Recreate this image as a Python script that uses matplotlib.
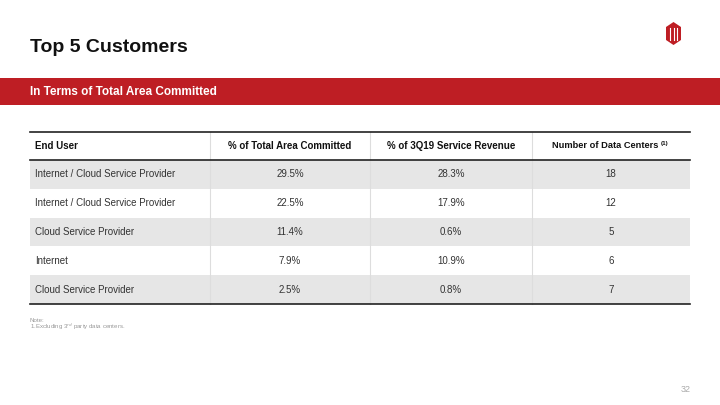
import matplotlib.pyplot as plt
from matplotlib.patches import Rectangle, Polygon

plt.rcParams['font.family'] = ['Liberation Sans', 'DejaVu Sans']

# ---------------------------------------------------------------
# Table data
# ---------------------------------------------------------------
headers = ['End User', '% of Total Area Committed', '% of 3Q19 Service Revenue',
           'Number of Data Centers']
end_users = ['Internet / Cloud Service Provider', 'Internet / Cloud Service Provider',
             'Cloud Service Provider', 'Internet', 'Cloud Service Provider']
area_pct = ['29.5%', '22.5%', '11.4%', '7.9%', '2.5%']
revenue_pct = ['28.3%', '17.9%', '0.6%', '10.9%', '0.8%']
data_centers = ['18', '12', '5', '6', '7']

red = '#BE1E24'
col_edges = [30, 210, 370, 532, 690]
header_top, header_bot = 132, 160
row_h = 28.8

fig = plt.figure(figsize=(7.2, 4.05), dpi=100)
ax = fig.add_axes([0, 0, 1, 1])
ax.set_xlim(0, 720)
ax.set_ylim(405, 0)
ax.axis('off')

# title and red band
ax.text(30, 48, 'Top 5 Customers', fontsize=14, fontweight='bold', va='center', color='#111111')
ax.add_patch(Rectangle((0, 78), 720, 27, color=red, lw=0))
ax.text(30, 92, 'In Terms of Total Area Committed', fontsize=8.5, fontweight='bold',
        va='center', color='white')

# logo (rough)
logo = Polygon([(666, 27), (673.5, 22), (681, 27), (681, 40), (673.5, 45), (666, 40)],
               closed=True, color=red, lw=0)
ax.add_patch(logo)
for x in [670, 673.5, 677]:
    ax.plot([x, x], [28, 40], color='white', lw=0.8)

# header
ax.plot([col_edges[0], col_edges[-1]], [header_top, header_top], color='#222222', lw=1.2)
ax.plot([col_edges[0], col_edges[-1]], [header_bot, header_bot], color='#222222', lw=1.2)
ax.text(35, 146, headers[0], fontsize=7, fontweight='bold', va='center', color='#111111')
for j in range(1, 3):
    cx = (col_edges[j] + col_edges[j + 1]) / 2
    ax.text(cx, 146, headers[j], fontsize=7, fontweight='bold', va='center', ha='center',
            color='#111111')
ax.text(605, 146, headers[3], fontsize=6.7, fontweight='bold', va='center', ha='center',
        color='#111111')
ax.text(661, 143.5, '(1)', fontsize=4.5, fontweight='bold', va='center', color='#111111')

# rows
cols = [area_pct, revenue_pct, data_centers]
for i in range(len(end_users)):
    y0 = header_bot + i * row_h
    if i % 2 == 0:
        ax.add_patch(Rectangle((col_edges[0], y0), col_edges[-1] - col_edges[0], row_h,
                               color='#E6E6E6', lw=0, zorder=0))
    yc = y0 + row_h / 2
    ax.text(35, yc, end_users[i], fontsize=7, va='center', color='#333333')
    for j, vals in enumerate(cols):
        cx = (col_edges[j + 1] + col_edges[j + 2]) / 2
        ax.text(cx, yc, vals[i], fontsize=7, va='center', ha='center', color='#333333')

table_bot = header_bot + len(end_users) * row_h
ax.plot([col_edges[0], col_edges[-1]], [table_bot, table_bot], color='#222222', lw=1.2)
for x in col_edges[1:-1]:
    ax.plot([x, x], [header_top, table_bot], color='#DDDDDD', lw=0.8, zorder=0.5)

# notes
ax.text(30, 320, 'Note:', fontsize=4.4, va='center', color='#999999')
ax.text(30, 327, '1.Excluding 3$^{rd}$ party data centers.', fontsize=4.4, va='center',
        color='#999999')
ax.text(691, 389, '32', fontsize=6.5, va='center', ha='right', color='#AAAAAA')

plt.savefig('out.png', dpi=100)
plt.close()
